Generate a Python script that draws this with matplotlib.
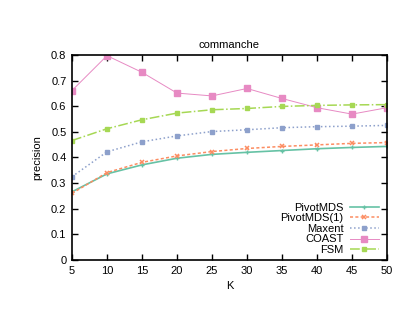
import numpy as np
import matplotlib.pyplot as plt

plt.rcParams['font.family'] = ['Liberation Sans', 'DejaVu Sans']
plt.rcParams['font.size'] = 8

K = [5, 10, 15, 20, 25, 30, 35, 40, 45, 50]

pivotmds = [0.266, 0.336, 0.371, 0.397, 0.412, 0.420, 0.427, 0.434, 0.439, 0.443]
pivotmds1 = [0.260, 0.341, 0.381, 0.406, 0.423, 0.435, 0.443, 0.449, 0.455, 0.458]
maxent = [0.325, 0.422, 0.461, 0.484, 0.501, 0.508, 0.516, 0.520, 0.522, 0.525]
coast = [0.661, 0.797, 0.732, 0.651, 0.640, 0.669, 0.630, 0.594, 0.569, 0.594]
fsm = [0.466, 0.512, 0.547, 0.573, 0.586, 0.591, 0.599, 0.603, 0.605, 0.606]

fig = plt.figure(figsize=(4.15, 3.21), dpi=100)
ax = fig.add_axes([0.1735, 0.19, 0.759, 0.639])

ax.plot(K, pivotmds, '-', color='#66c2a5', lw=1.2, marker='+', ms=3.5, label='PivotMDS')
ax.plot(K, pivotmds1, '--', color='#fc8d62', lw=1.1, marker='x', ms=3, mew=1.1,
        dashes=(2, 1.5), label='PivotMDS(1)')
ax.plot(K, maxent, ':', color='#8da0cb', lw=1.1, marker='s', ms=2.8, label='Maxent')
ax.plot(K, coast, '-', color='#e78ac3', lw=0.7, marker='s', ms=4.5, label='COAST')
ax.plot(K, fsm, '-.', color='#a6d854', lw=1.1, marker='s', ms=2.8, label='FSM')

ax.set_xlim(5, 50)
ax.set_ylim(0, 0.8)
ax.set_xticks(K)
yt = np.arange(0, 0.81, 0.1)
ax.set_yticks(yt)
ax.set_yticklabels(['0'] + ['%.1f' % v for v in yt[1:]])
ax.tick_params(direction='in', top=True, right=True, length=4, width=1, pad=4)
for s in ax.spines.values():
    s.set_linewidth(1.2)

ax.set_title('commanche', fontsize=8, pad=5)
ax.set_xlabel('K', labelpad=4)
ax.set_ylabel('precision', labelpad=6)

ax.legend(loc='lower right', markerfirst=False, frameon=False, fontsize=8,
          handlelength=2.6, labelspacing=0.05, handletextpad=0.6,
          borderpad=0.15, borderaxespad=0.3, bbox_to_anchor=(0.99, 0.0))

fig.savefig('out.png', dpi=100)
